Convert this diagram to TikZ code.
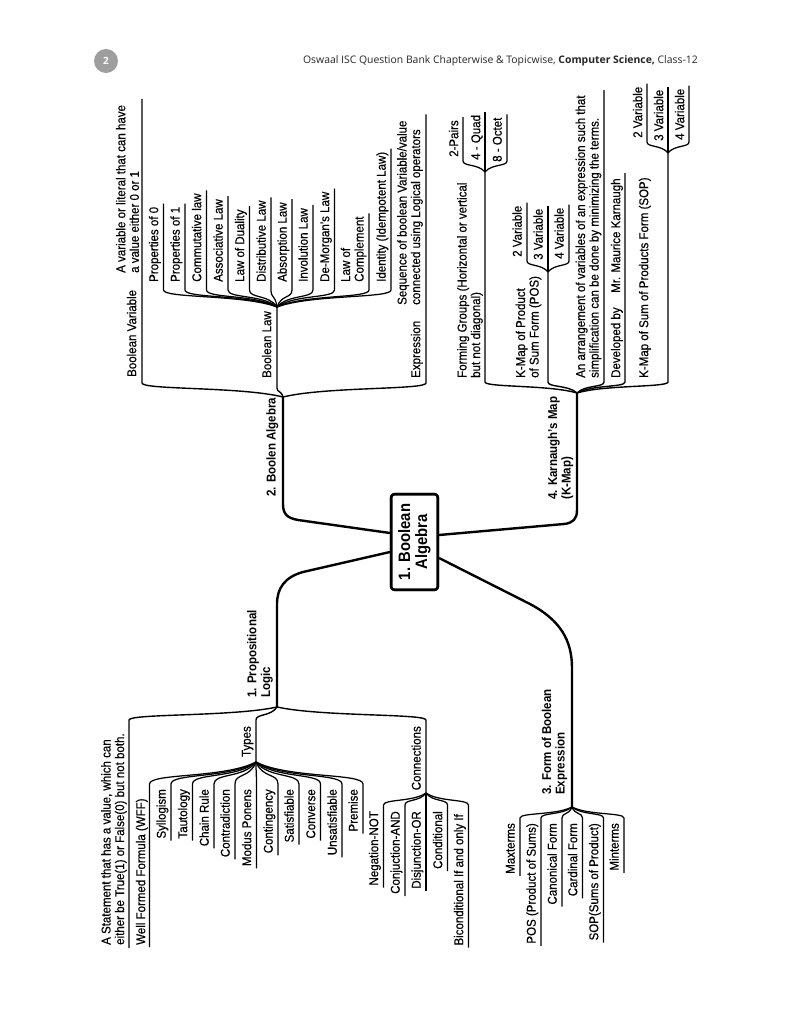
\documentclass[tikz,border=0pt]{standalone}
\usepackage{fontspec}
\setmainfont{Liberation Sans}[FakeStretch=0.9,UprightFeatures={FakeBold=0.35}]
\newfontfamily\hdrfont{Open Sans}
\newcommand\lblf{\fontsize{12.8}{13.6}\selectfont}
\newcommand\setj[3]{\def\J{#1}\def\jx{#2}\def\jy{#3}}
% #1 style, #2 junction, #3 line x, #4 curve end y, #5 rest of path
\newcommand\conn[5]{\draw[#1] (#2) .. controls ({\jx+0.3*(#3-\jx)},{#4+0.25*(\jy-#4)}) and (#3,{#4+0.5*(\jy-#4)}) .. (#3,#4) #5;}
% top leaf: [style] name, line x, curve end y, text x, text bottom y, text
\newcommand\tleaf[7][lbl]{%
 \node[#1,anchor=west] (#2) at (#5,#6) {#7};
 \conn{leaf}{\J}{#3}{#4}{-- (perpendicular cs: horizontal line through={(#2.east)}, vertical line through={(#3,0)}) -- ++(0,-3)}}
% bottom leaf: [style] name, line x, curve end y, text x, anchor, text y, text
\newcommand\bleaf[8][lbl]{%
 \node[#1,anchor=#6] (#2) at (#5,#7) {#8};
 \conn{leaf}{\J}{#3}{#4}{-- (perpendicular cs: horizontal line through={(#2.west)}, vertical line through={(#3,0)}) -- ++(0,2)}}
\begin{document}
\begin{tikzpicture}[x=1pt,y=-1pt,line join=round,
 lbl/.style={rotate=90,inner sep=0pt,font=\lblf,text height=9pt,text depth=2.6pt},
 lblm/.style={rotate=90,inner sep=0pt,font=\lblf,align=left},
 lblb/.style={rotate=90,inner sep=0pt,font={\lblf\bfseries},align=left},
 lblbs/.style={rotate=90,inner sep=0pt,font={\lblf\bfseries},text height=9pt,text depth=2.6pt},
 mainline/.style={line width=2.4pt},
 br/.style={line width=1.4pt},
 leaf/.style={line width=1.25pt},
 rootbox/.style={rotate=90,draw,fill=white,line width=2.6pt,rounded corners=3pt,minimum width=95.5pt,minimum height=46.5pt,inner sep=2pt,align=center,font={\fontsize{16.5}{17}\selectfont\bfseries}}]
\useasboundingbox (0,0) rectangle (791,1024);
\fill[white] (0,0) rectangle (791,1024);

% header
\node[circle,fill=black!38,minimum size=24pt,inner sep=0pt,text=white,font={\hdrfont\bfseries\fontsize{10}{12}\selectfont}] (pg) at (106,61) {2};
\node[anchor=east,inner sep=0pt,text=black!85,font={\hdrfont\fontsize{10.4}{12}\selectfont}] (hd) at (698,61) {Oswaal ISC Question Bank Chapterwise \& Topicwise, \textbf{Computer Science,} Class-12};

% junctions
\coordinate (J2) at (283,397);
\coordinate (JL) at (277,307);
\coordinate (J4) at (577,393);
\coordinate (JF) at (485,172);
\coordinate (JP) at (548,272);
\coordinate (JS) at (668,153);
\coordinate (J1) at (277,707);
\coordinate (JT) at (256,762);
\coordinate (JC) at (426,793);
\coordinate (J3) at (572,807);

% root
\path (414.5,542) node[rootbox] (R) {};
\draw[mainline] ([yshift=9pt]R.north) -- (298,520) .. controls (287,518) and (283,514) .. (283,504) -- (J2);
\draw[mainline] ([yshift=-10pt]R.north) -- (303,572) .. controls (285,577) and (277,588) .. (277,604) -- (J1);
\draw[mainline] ([yshift=7pt]R.south) -- (564,524) .. controls (573,523) and (577,519) .. (577,510) -- (J4);
\draw[mainline] ([yshift=-16pt]R.south) -- (530,604) .. controls (560,620) and (572,640) .. (572,668) -- (J3);
\node[rootbox] (R2) at (414.5,542) {1. Boolean\\Algebra};

% level-1 labels
\node[lblbs,anchor=west] (lab2) at (272.5,497) {2. Boolen Algebra};
\node[lblb,anchor=west] (lab1) at (260,698) {1. Propositional\\Logic};
\node[lblb,anchor=west] (lab4) at (560.5,500) {4. Karnaugh’s Map\\(K-Map)};
\node[lblb,anchor=west] (lab3) at (554.5,795) {3. Form of Boolean\\Expression};

% ---- 2. Boolean Algebra
\setj{J2}{283}{397}
\node[lbl,anchor=west] (bv) at (133,377) {Boolean Variable};
\node[lblm,anchor=west] (bvd) at (127.5,273) {A variable or literal that can have\\a value either 0 or 1};
\conn{br}{J2}{142}{383}{-- (perpendicular cs: horizontal line through={(bvd.east)}, vertical line through={(142,0)}) -- ++(0,-6)}
\node[lbl,anchor=west] (bl) at (268,378) {Boolean Law};
\conn{br}{J2}{277}{388}{-- (JL)}
\node[lbl,anchor=west] (ex) at (417,378) {Expression};
\node[lblm,anchor=west] (exd) at (410,305) {Sequence of boolean Variable/value\\connected using Logical operators};
\conn{br}{J2}{426}{383}{-- (perpendicular cs: horizontal line through={(exd.east)}, vertical line through={(426,0)}) -- ++(0,-6)}

\setj{JL}{277}{307}
\tleaf{l1}{163.5}{290}{155}{282}{Properties of 0}
\tleaf{l2}{185}{290}{176.5}{282}{Properties of 1}
\tleaf{l3}{206.5}{290}{198}{282}{Commutative law}
\tleaf{l4}{228}{290}{219.5}{282}{Associative Law}
\tleaf{l5}{249.5}{290}{241}{282}{Law of Duality}
\tleaf{l6}{271}{290}{262.5}{282}{Distributive Law}
\tleaf{l7}{292}{290}{283.5}{282}{Absorption Law}
\tleaf{l8}{313}{290}{304.5}{282}{Involution Law}
\tleaf{l9}{334.5}{290}{326}{282}{De-Morgan’s Law}
\tleaf[lblm]{l10}{369}{290}{353.5}{282}{Law of\\Complement}
\tleaf{l11}{391}{290}{382.5}{282}{Identity (Idempotent Law)}

% ---- 4. Karnaugh's Map
\setj{J4}{577}{393}
\node[lblm,anchor=west] (fg) at (470,378) {Forming Groups (Horizontal or vertical\\but not diagonal)};
\conn{br}{J4}{485}{382}{-- (JF)}
\node[lblm,anchor=west] (pos) at (528.5,378) {K-Map of Product\\of Sum Form (POS)};
\conn{br}{J4}{548}{382}{-- (JP)}
\node[lblm,anchor=west] (arr) at (588.5,378) {An arrangement of variables of an expression such that\\simplification can be done by minimizing the terms.};
\conn{br}{J4}{604}{382}{-- (perpendicular cs: horizontal line through={(arr.east)}, vertical line through={(604,0)}) -- ++(0,-5)}
\node[lbl,anchor=west] (dev) at (617,378) {Developed by};
\node[lbl,anchor=west] (mmk) at (617,293) {Mr. Maurice Karnaugh};
\conn{br}{J4}{625}{382}{-- (perpendicular cs: horizontal line through={(mmk.east)}, vertical line through={(625,0)}) -- ++(0,-5)}
\node[lbl,anchor=west] (sop) at (645,378) {K-Map of Sum of Products Form (SOP)};
\conn{br}{J4}{668}{382}{-- (JS)}

\setj{JF}{485}{172}
\tleaf{g1}{463}{161}{455}{157}{2-Pairs}
\tleaf{g2}{485}{161}{477}{160}{4 - Quad}
\tleaf{g3}{507}{161}{498.5}{162}{8 - Octet}

\setj{JP}{548}{272}
\tleaf{pv2}{527}{261}{518.5}{257}{2 Variable}
\tleaf{pv3}{548}{261}{539.5}{260}{3 Variable}
\tleaf{pv4}{569}{261}{560.5}{259}{4 Variable}

\setj{JS}{668}{153}
\tleaf{sv2}{647}{142}{639}{138}{2 Variable}
\tleaf{sv3}{668}{142}{660}{141}{3 Variable}
\tleaf{sv4}{689}{142}{681}{140}{4 Variable}

% ---- 1. Propositional Logic
\setj{J1}{277}{707}
\node[lblm,anchor=west] (st) at (114,945) {A Statement that has a value, which can\\either be True(1) or False(0) but not both.};
\conn{br}{J1}{129}{720}{-- (perpendicular cs: horizontal line through={(st.west)}, vertical line through={(129,0)}) -- ++(0,3)}
\node[lbl,anchor=east] (ty) at (247.5,726) {Types};
\conn{br}{J1}{256}{720}{-- (JT)}
\node[lbl,anchor=east] (cn) at (417.5,726) {Connections};
\conn{br}{J1}{426}{720}{-- (JC)}

\setj{JT}{256}{762}
\bleaf{wff}{149.5}{784}{142}{west}{945}{Well Formed Formula (WFF)}
\bleaf{t1}{171}{784}{162.5}{east}{789}{Syllogism}
\bleaf{t2}{192.5}{784}{184}{east}{789}{Tautology}
\bleaf{t3}{214}{784}{205.5}{east}{789}{Chain Rule}
\bleaf{t4}{235}{784}{226.5}{east}{789}{Contradiction}
\bleaf{t5}{256.5}{784}{248}{east}{789}{Modus Ponens}
\bleaf{t6}{278}{784}{269.5}{east}{789}{Contingency}
\bleaf{t7}{299}{784}{290.5}{east}{789}{Satisfiable}
\bleaf{t8}{320.5}{784}{312}{east}{789}{Converse}
\bleaf{t9}{342}{784}{333.5}{east}{789}{Unsatisfiable}
\bleaf{t10}{363}{784}{354.5}{east}{789}{Premise}

\setj{JC}{426}{793}
\bleaf{c1}{383.5}{805}{375}{east}{811}{Negation-NOT}
\bleaf{c2}{405}{805}{396.5}{east}{811}{Conjuction-AND}
\bleaf{c3}{426}{805}{417.5}{east}{811}{Disjunction-OR}
\bleaf{c4}{447.5}{805}{439}{east}{811}{Conditional}
\bleaf{c5}{468.5}{805}{460}{east}{814}{Biconditional If and only If}

% ---- 3. Form of Boolean Expression
\setj{J3}{572}{807}
\bleaf{f1}{520}{818}{511.5}{east}{823}{Maxterms}
\bleaf{f2}{541}{818}{532.5}{east}{823}{POS (Product of Sums)}
\bleaf{f3}{562}{818}{553.5}{east}{823}{Canonical Form}
\bleaf{f4}{582.5}{818}{574}{east}{823}{Cardinal Form}
\bleaf{f5}{603.5}{818}{595}{east}{823}{SOP(Sums of Product)}
\bleaf{f6}{624}{818}{615.5}{east}{823}{Minterms}
\end{tikzpicture}
\end{document}
